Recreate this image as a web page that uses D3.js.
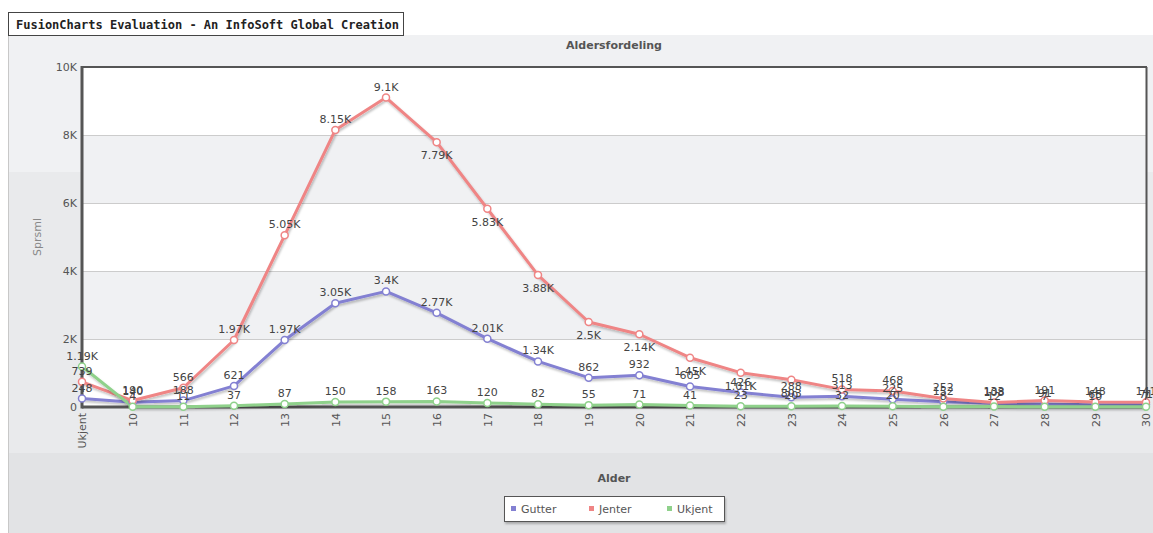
<!DOCTYPE html>
<html>
<head>
<meta charset="utf-8">
<script src="https://cdn.jsdelivr.net/npm/d3@7"></script>
<style>
  body { margin: 0; background: #fff; }
  text { font-family: "DejaVu Sans", Verdana, sans-serif; }
</style>
</head>
<body>
<div id="chart"></div>
<script>
// data
var categories = ['Ukjent', '10', '11', '12', '13', '14', '15', '16', '17', '18', '19',
    '20', '21', '22', '23', '24', '25', '26', '27', '28', '29', '30'];
var gutter = [248, 140, 188, 621, 1970, 3050, 3400, 2770, 2010, 1340, 862,
    932, 605, 426, 288, 313, 225, 152, 108, 91, 65, 71];
var jenter = [739, 190, 566, 1970, 5050, 8150, 9100, 7790, 5830, 3880, 2500,
    2140, 1450, 1010, 803, 518, 468, 252, 133, 191, 148, 141];
var ukjent = [1190, 4, 11, 37, 87, 150, 158, 163, 120, 82, 55,
    71, 41, 23, 20, 32, 20, 8, 12, 7, 10, 7];
var yTicks = [0, 2000, 4000, 6000, 8000, 10000];

var series = [
    { name: 'Gutter', values: gutter, color: '#8380d2' },
    { name: 'Jenter', values: jenter, color: '#ef8585' },
    { name: 'Ukjent', values: ukjent, color: '#8fd18b' }
];

var svgWidth = 1153;
var svgHeight = 533;

var plot = { left: 82, right: 1146, top: 67, bottom: 407 };

var svg = d3.select('#chart')
    .append('svg')
    .attr('width', svgWidth)
    .attr('height', svgHeight);

var defs = svg.append('defs');
defs.append('filter')
    .attr('id', 'shadow')
    .attr('x', '-5%').attr('y', '-5%').attr('width', '110%').attr('height', '120%')
    .append('feDropShadow')
    .attr('dx', 1).attr('dy', 2)
    .attr('stdDeviation', 1.2)
    .attr('flood-color', '#000')
    .attr('flood-opacity', 0.25);

// chart backgrounds
svg.append('rect').attr('x', 8).attr('y', 35).attr('width', svgWidth - 8).attr('height', 137).attr('fill', '#f0f1f3');
svg.append('rect').attr('x', 8).attr('y', 172).attr('width', svgWidth - 8).attr('height', 281).attr('fill', '#e9eaec');
svg.append('rect').attr('x', 8).attr('y', 453).attr('width', svgWidth - 8).attr('height', 80).attr('fill', '#e2e3e5');
svg.append('line').attr('x1', 8.5).attr('x2', 8.5).attr('y1', 35).attr('y2', svgHeight)
    .attr('stroke', '#c8c8c8');

// scales
var xScale = d3.scalePoint()
    .domain(categories)
    .range([plot.left, plot.right]);

var yScale = d3.scaleLinear()
    .domain([0, 10000])
    .range([plot.bottom, plot.top]);

var fmt = function(v) {
    return v >= 1000 ? (+(v / 1000).toFixed(2)) + 'K' : String(v);
};

// alternating bands
var bands = svg.append('g');
yTicks.slice(0, -1).forEach(function(t, i) {
    bands.append('rect')
        .attr('x', plot.left)
        .attr('y', yScale(yTicks[i + 1]))
        .attr('width', plot.right - plot.left)
        .attr('height', yScale(t) - yScale(yTicks[i + 1]))
        .attr('fill', i % 2 === 0 ? '#ffffff' : '#f0f1f3');
});

// grid lines
var yAxis = d3.axisLeft(yScale)
    .tickValues(yTicks)
    .tickSize(-(plot.right - plot.left))
    .tickPadding(5)
    .tickFormat(function(d) { return d === 0 ? '0' : (d / 1000) + 'K'; });

var yAxisG = svg.append('g')
    .attr('transform', `translate(${plot.left}, 0)`)
    .call(yAxis);
yAxisG.select('.domain').remove();
yAxisG.selectAll('line').attr('stroke', '#cccccc');
yAxisG.selectAll('text')
    .attr('fill', '#555')
    .style('font-size', '11px');

// plot border
svg.append('line').attr('x1', plot.left).attr('x2', plot.right + 1).attr('y1', plot.top).attr('y2', plot.top)
    .attr('stroke', '#555').attr('stroke-width', 2);
svg.append('line').attr('x1', plot.right + 0.5).attr('x2', plot.right + 0.5).attr('y1', plot.top).attr('y2', plot.bottom)
    .attr('stroke', '#555').attr('stroke-width', 2);
svg.append('line').attr('x1', plot.left).attr('x2', plot.left).attr('y1', plot.top - 1).attr('y2', plot.bottom + 1.5)
    .attr('stroke', '#555').attr('stroke-width', 3);
svg.append('line').attr('x1', plot.left).attr('x2', plot.right + 1).attr('y1', plot.bottom).attr('y2', plot.bottom)
    .attr('stroke', '#555').attr('stroke-width', 3);

// x axis labels (rotated)
var xAxis = d3.axisBottom(xScale).tickSize(0).tickPadding(0);
var xAxisG = svg.append('g')
    .attr('transform', `translate(0, ${plot.bottom})`)
    .call(xAxis);
xAxisG.select('.domain').remove();
xAxisG.selectAll('text')
    .attr('fill', '#555')
    .style('font-size', '11px')
    .attr('text-anchor', 'end')
    .attr('dy', '0.35em')
    .attr('transform', 'translate(0, 6) rotate(-90)')
    .attr('y', 0)
    .attr('x', 0);

// lines
var line = d3.line()
    .x(function(d, i) { return xScale(categories[i]); })
    .y(function(d) { return yScale(d); });

var lineGroup = svg.append('g');
series.forEach(function(s) {
    lineGroup.append('path')
        .datum(s.values)
        .attr('d', line)
        .attr('fill', 'none')
        .attr('stroke', s.color)
        .attr('stroke-width', 3)
        .attr('stroke-linejoin', 'round')
        .attr('filter', 'url(#shadow)');
});

// markers
series.forEach(function(s) {
    lineGroup.selectAll(null)
        .data(s.values)
        .enter()
        .append('circle')
        .attr('cx', function(d, i) { return xScale(categories[i]); })
        .attr('cy', function(d) { return yScale(d); })
        .attr('r', 3.5)
        .attr('fill', '#fff')
        .attr('stroke', s.color)
        .attr('stroke-width', 1.5);
});

// value labels - falling Jenter values sit under the point
function labelBelow(s, i) {
    return s.name === 'Jenter' && i > 0 && s.values[i] < s.values[i - 1] && s.values[i] > 700;
}

var labelGroup = svg.append('g');
series.forEach(function(s) {
    labelGroup.selectAll(null)
        .data(s.values)
        .enter()
        .append('text')
        .attr('x', function(d, i) { return xScale(categories[i]); })
        .attr('y', function(d, i) { return yScale(d) + (labelBelow(s, i) ? 17 : -7); })
        .attr('text-anchor', 'middle')
        .attr('fill', '#444')
        .style('font-size', '11px')
        .text(function(d) { return fmt(d); });
});

// caption and axis titles
svg.append('text')
    .attr('x', (plot.left + plot.right) / 2)
    .attr('y', 49)
    .attr('text-anchor', 'middle')
    .attr('fill', '#555')
    .style('font-size', '11px')
    .style('font-weight', 'bold')
    .text('Aldersfordeling');

svg.append('text')
    .attr('transform', `translate(41, 237) rotate(-90)`)
    .attr('text-anchor', 'middle')
    .attr('fill', '#888')
    .style('font-size', '11px')
    .text('Sprsml');

svg.append('text')
    .attr('x', (plot.left + plot.right) / 2)
    .attr('y', 482)
    .attr('text-anchor', 'middle')
    .attr('fill', '#555')
    .style('font-size', '11px')
    .style('font-weight', 'bold')
    .text('Alder');

// legend
var legend = svg.append('g');
legend.append('rect')
    .attr('x', 504.5).attr('y', 496.5)
    .attr('width', 220).attr('height', 25)
    .attr('fill', '#fff')
    .attr('stroke', '#555')
    .attr('filter', 'url(#shadow)');

var legendX = [511, 589, 667];
series.forEach(function(s, i) {
    legend.append('rect')
        .attr('x', legendX[i]).attr('y', 506)
        .attr('width', 5).attr('height', 5)
        .attr('fill', s.color);
    legend.append('text')
        .attr('x', legendX[i] + 10)
        .attr('y', 513)
        .attr('fill', '#555')
        .style('font-size', '11px')
        .text(s.name);
});

// evaluation banner
svg.append('rect')
    .attr('x', 8.5).attr('y', 12.5)
    .attr('width', 395).attr('height', 23)
    .attr('fill', '#fff')
    .attr('stroke', '#444');
svg.append('text')
    .attr('x', 16)
    .attr('y', 29)
    .attr('fill', '#222')
    .style('font-family', '"DejaVu Sans Mono", monospace')
    .style('font-size', '12px')
    .style('font-weight', 'bold')
    .text('FusionCharts Evaluation - An InfoSoft Global Creation');
</script>
</body>
</html>
